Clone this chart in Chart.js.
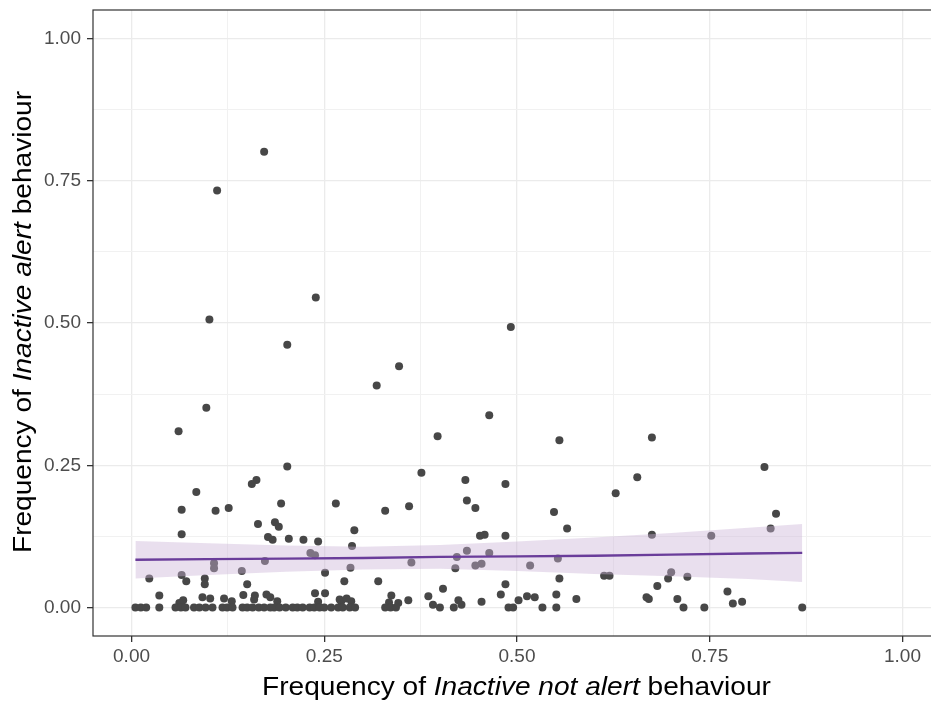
<!DOCTYPE html>
<html>
<head>
<meta charset="utf-8">
<script src="https://cdn.jsdelivr.net/npm/chart.js@4/dist/chart.umd.min.js"></script>
<style>
  html, body { margin: 0; padding: 0; background: #fff; overflow: hidden; }
  #wrap { position: relative; width: 931px; height: 704px; overflow: hidden; }
  #chart { position: absolute; left: 0; top: 0; }
  .axis-title { position: absolute; font-family: "Liberation Sans", Arial, sans-serif; font-size: 26px;
    line-height: 26px; color: #000; white-space: nowrap; text-align: center; }
  #xtitle { left: 0; width: 1033px; top: 673px; transform: scaleX(1.08); }
  #ytitle { width: 700px; height: 26px; left: -328px; top: 309px; transform: rotate(-90deg) scaleX(1.08); }
</style>
</head>
<body>
<div id="wrap">
  <canvas id="chart" width="945" height="704"></canvas>
  <div class="axis-title" id="xtitle">Frequency of <i>Inactive not alert</i> behaviour</div>
  <div class="axis-title" id="ytitle">Frequency of <i>Inactive alert</i> behaviour</div>
</div>
<script>
// valores
const notAlertFreq = [
  0.172, 0.111, 0.239, 0.101, 0.492, 0.202, 0.347, 0.318, 0.097, 0.464,
  0.061, 0.397, 0.675, 0.555, 0.202, 0.821, 0.376, 0.656, 0.433, 0.162,
  0.156, 0.485, 0.084, 0.628, 0.435, 0.265, 0.194, 0.360, 0.126, 0.446,
  0.065, 0.329, 0.109, 0.548, 0.836, 0.186, 0.164, 0.191, 0.565, 0.829,
  0.289, 0.065, 0.458, 0.675, 0.452, 0.485, 0.752, 0.177, 0.204, 0.183,
  0.223, 0.242, 0.286, 0.435, 0.232, 0.464, 0.238, 0.422, 0.553, 0.173,
  0.363, 0.107, 0.454, 0.446, 0.517, 0.284, 0.107, 0.420, 0.143, 0.251,
  0.700, 0.065, 0.613, 0.620, 0.721, 0.023, 0.095, 0.696, 0.555, 0.071,
  0.276, 0.320, 0.095, 0.150, 0.485, 0.682, 0.404, 0.773, 0.238, 0.251,
  0.036, 0.145, 0.160, 0.175, 0.337, 0.385, 0.479, 0.551, 0.513, 0.523,
  0.668, 0.671, 0.577, 0.708, 0.120, 0.102, 0.067, 0.359, 0.424, 0.502,
  0.285, 0.272, 0.454, 0.792, 0.780, 0.428, 0.391, 0.334, 0.346, 0.180,
  0.189, 0.242, 0.270, 0.279, 0.159, 0.092, 0.130, 0.062,
  0.005, 0.012, 0.019, 0.036, 0.057, 0.064, 0.070, 0.081, 0.088, 0.096,
  0.105, 0.118, 0.124, 0.131, 0.144, 0.150, 0.157, 0.165, 0.172, 0.180,
  0.185, 0.192, 0.200, 0.209, 0.215, 0.222, 0.231, 0.237, 0.244, 0.250,
  0.259, 0.268, 0.274, 0.283, 0.290, 0.329, 0.336, 0.343, 0.400, 0.418,
  0.489, 0.495, 0.533, 0.551, 0.716, 0.743, 0.870
];
const alertFreq = [
  0.801, 0.733, 0.545, 0.506, 0.493, 0.462, 0.424, 0.390, 0.351, 0.338,
  0.310, 0.301, 0.299, 0.294, 0.248, 0.247, 0.237, 0.229, 0.224, 0.224,
  0.217, 0.217, 0.203, 0.201, 0.188, 0.183, 0.183, 0.178, 0.175, 0.175,
  0.172, 0.170, 0.170, 0.168, 0.165, 0.150, 0.147, 0.142, 0.139, 0.139,
  0.136, 0.129, 0.128, 0.128, 0.126, 0.126, 0.126, 0.124, 0.121, 0.119,
  0.119, 0.116, 0.108, 0.100, 0.096, 0.096, 0.092, 0.089, 0.086, 0.082,
  0.079, 0.078, 0.077, 0.074, 0.074, 0.070, 0.069, 0.069, 0.064, 0.061,
  0.062, 0.057, 0.056, 0.056, 0.054, 0.051, 0.051, 0.051, 0.051, 0.046,
  0.046, 0.046, 0.041, 0.041, 0.041, 0.038, 0.033, 0.028, 0.025, 0.025,
  0.021, 0.022, 0.021, 0.023, 0.021, 0.020, 0.023, 0.023, 0.020, 0.018,
  0.018, 0.015, 0.015, 0.015, 0.016, 0.016, 0.013, 0.013, 0.013, 0.013,
  0.011, 0.011, 0.010, 0.010, 0.007, 0.005, 0.005, 0.009, 0.008, 0.018,
  0.011, 0.010, 0.014, 0.016, 0.014, 0.018, 0.011, 0.008,
  0, 0, 0, 0, 0, 0, 0, 0, 0, 0,
  0, 0, 0, 0, 0, 0, 0, 0, 0, 0,
  0, 0, 0, 0, 0, 0, 0, 0, 0, 0,
  0, 0, 0, 0, 0, 0, 0, 0, 0, 0,
  0, 0, 0, 0, 0, 0, 0
];

// recta lm y su intervalo de confianza
const fitX     = [0.005, 0.1,   0.2,   0.3,   0.4,   0.5,   0.6,   0.7,   0.8,   0.87];
const fitY     = [0.084, 0.085, 0.086, 0.087, 0.089, 0.090, 0.091, 0.093, 0.095, 0.096];
const ciUpper  = [0.117, 0.113, 0.109, 0.107, 0.110, 0.116, 0.123, 0.131, 0.140, 0.147];
const ciLower  = [0.051, 0.057, 0.063, 0.067, 0.068, 0.064, 0.059, 0.055, 0.050, 0.045];

const majorTicks = [0, 0.25, 0.5, 0.75, 1];
const minorTicks = [0.125, 0.375, 0.625, 0.875];
const axisMin = -0.05, axisMax = 1.05;

const toPoints = (xs, ys) => xs.map((x, i) => ({ x, y: ys[i] }));
const isMajor = v => majorTicks.includes(v);

const gridOpts = {
  color: ctx => isMajor(ctx.tick && ctx.tick.value) ? '#ebebeb' : '#f1f1f1',
  lineWidth: ctx => isMajor(ctx.tick && ctx.tick.value) ? 1.3 : 1,
  tickColor: ctx => isMajor(ctx.tick && ctx.tick.value) ? '#333333' : 'rgba(0,0,0,0)',
  tickLength: 6,
  drawTicks: true
};

const setTicks = scale => {
  scale.ticks = [...majorTicks, ...minorTicks].sort((a, b) => a - b).map(v => ({ value: v }));
};

const tickFont = { family: '"Liberation Sans", Arial, sans-serif', size: 19 };

// borde del panel (theme_bw)
const panelBorder = {
  id: 'panelBorder',
  afterDraw(chart) {
    const { ctx, chartArea } = chart;
    ctx.save();
    ctx.strokeStyle = '#333333';
    ctx.lineWidth = 1.2;
    ctx.strokeRect(chartArea.left, chartArea.top, chartArea.right - chartArea.left, chartArea.bottom - chartArea.top);
    ctx.restore();
  }
};

new Chart('chart', {
  type: 'scatter',
  data: {
    datasets: [
      {
        label: 'points',
        data: toPoints(notAlertFreq, alertFreq),
        backgroundColor: '#474747',
        borderWidth: 0,
        pointRadius: 4,
        order: 3
      },
      {
        label: 'ciLower',
        type: 'line',
        data: toPoints(fitX, ciLower),
        borderWidth: 0,
        pointRadius: 0,
        fill: false,
        order: 2
      },
      {
        label: 'ciUpper',
        type: 'line',
        data: toPoints(fitX, ciUpper),
        borderWidth: 0,
        pointRadius: 0,
        backgroundColor: 'rgba(202,178,214,0.42)',
        fill: '-1',
        order: 2
      },
      {
        label: 'fit',
        type: 'line',
        data: toPoints(fitX, fitY),
        borderColor: '#6a3d9a',
        borderWidth: 2.4,
        pointRadius: 0,
        fill: false,
        order: 1
      }
    ]
  },
  options: {
    responsive: false,
    animation: false,
    devicePixelRatio: 1,
    layout: { padding: { top: 10, right: 4, left: 0, bottom: 0 } },
    plugins: { legend: { display: false }, tooltip: { enabled: false } },
    scales: {
      x: {
        type: 'linear',
        min: axisMin,
        max: axisMax,
        afterBuildTicks: setTicks,
        afterFit: scale => { scale.height = 68; scale.paddingLeft = 0; scale.paddingRight = 0; },
        grid: gridOpts,
        border: { display: false },
        ticks: {
          autoSkip: false,
          maxRotation: 0,
          padding: 3,
          color: '#4d4d4d',
          font: tickFont,
          callback: v => isMajor(v) ? v.toFixed(2) : ''
        }
      },
      y: {
        type: 'linear',
        min: axisMin,
        max: axisMax,
        afterBuildTicks: setTicks,
        afterFit: scale => { scale.width = 93; scale.paddingTop = 0; scale.paddingBottom = 0; },
        grid: gridOpts,
        border: { display: false },
        ticks: {
          autoSkip: false,
          padding: 6,
          color: '#4d4d4d',
          font: tickFont,
          callback: v => isMajor(v) ? v.toFixed(2) : ''
        }
      }
    }
  },
  plugins: [panelBorder]
});
</script>
</body>
</html>
